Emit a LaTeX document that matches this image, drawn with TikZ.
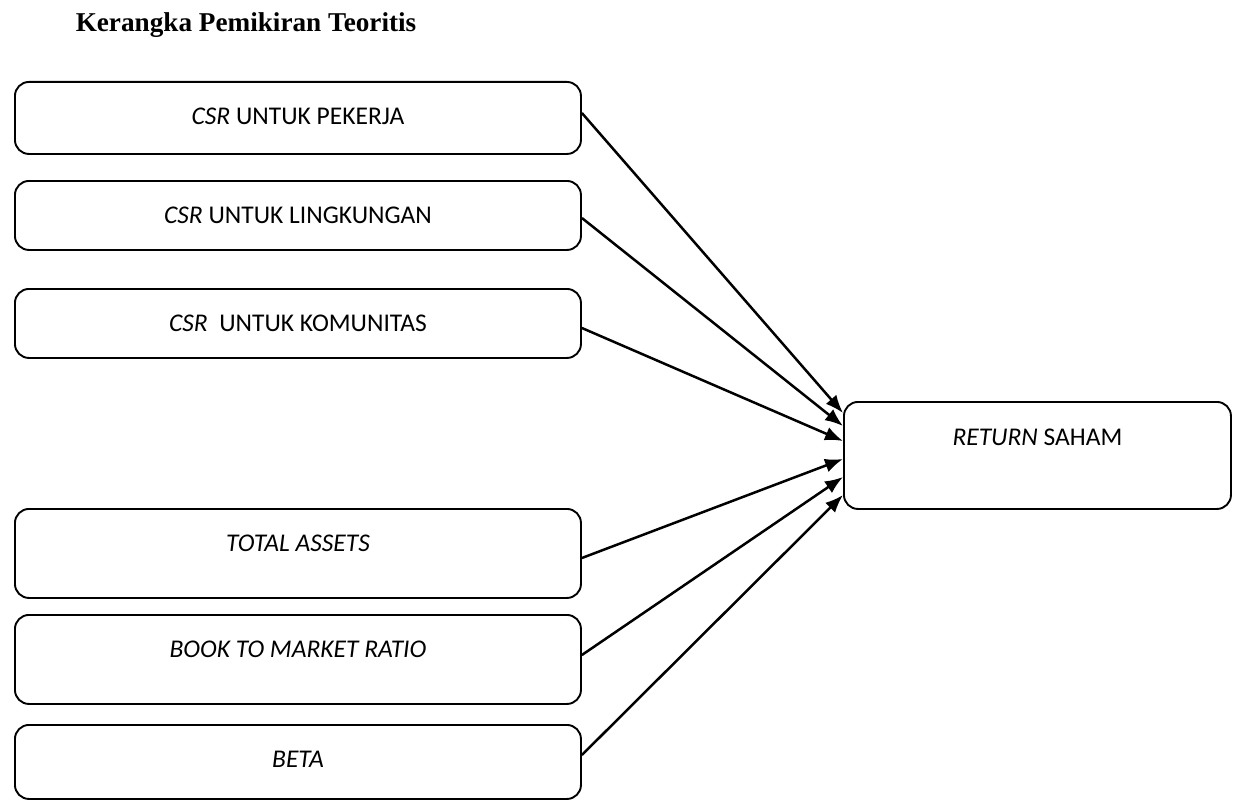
\documentclass[tikz,border=0pt]{standalone}
\usepackage{fontspec}
\setmainfont{Carlito}
\newfontfamily\titlefont{Liberation Serif}
\usetikzlibrary{arrows.meta,calc}
\tikzset{
  box/.style={draw, line width=1.9pt, rounded corners=14pt, inner sep=0pt,
    minimum width=566pt, text height=43pt, anchor=north west,
    font=\fontsize{25.5}{30}\selectfont},
  retbox/.style={box, minimum width=387pt, text height=44pt},
  conn/.style={line width=2.5pt, -{Latex[length=18pt,width=14pt]}},
  titlestyle/.style={font=\titlefont\bfseries\fontsize{27.2}{32}\selectfont, inner sep=0pt}
}
\begin{document}
\begin{tikzpicture}[x=1pt,y=-1pt]
\useasboundingbox (0,0) rectangle (1235,800);
\node[titlestyle] (title) at (246,25) {Kerangka Pemikiran Teoritis};
\node[box, text depth=29pt] (b1) at (14,81) {\textit{CSR} UNTUK PEKERJA};
\node[box, text depth=26pt] (b2) at (14,180) {\textit{CSR} UNTUK LINGKUNGAN};
\node[box, text depth=26pt] (b3) at (14,288) {\textit{CSR}\ \ UNTUK KOMUNITAS};
\node[box, text depth=46pt] (b4) at (14,508) {\textit{TOTAL ASSETS}};
\node[box, text depth=46pt] (b5) at (14,614) {\textit{BOOK TO MARKET RATIO}};
\node[box, text depth=31pt] (b6) at (14,724) {\textit{BETA}};
\node[retbox, text depth=63pt] (ret) at (843,401) {\textit{RETURN} SAHAM};
\draw[conn] ($(b1.north east)+(0,32)$) -- ($(ret.north west)+(0,12)$);
\draw[conn] ($(b2.north east)+(0,38)$) -- ($(ret.north west)+(0,25)$);
\draw[conn] ($(b3.north east)+(0,40)$) -- ($(ret.north west)+(0,40)$);
\draw[conn] ($(b4.north east)+(0,50)$) -- ($(ret.north west)+(0,58)$);
\draw[conn] ($(b5.north east)+(0,41)$) -- ($(ret.north west)+(0,76)$);
\draw[conn] ($(b6.north east)+(0,31)$) -- ($(ret.north west)+(0,94)$);
\end{tikzpicture}
\end{document}
